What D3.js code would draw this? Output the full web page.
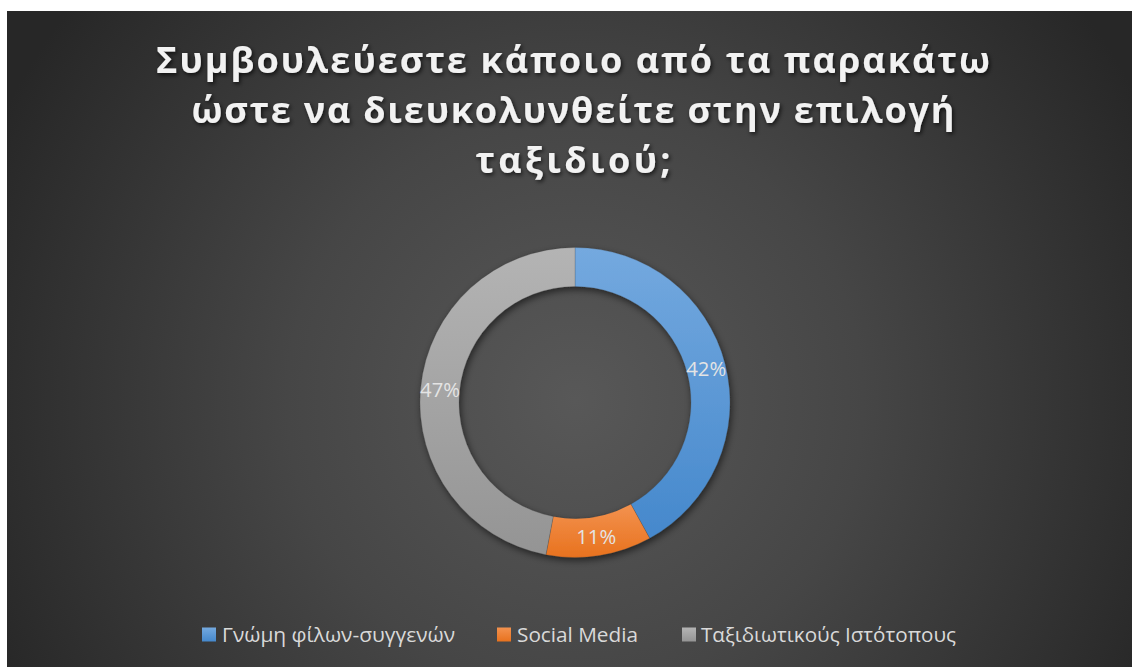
<!DOCTYPE html>
<html>
<head>
<meta charset="utf-8">
<script src="https://cdn.jsdelivr.net/npm/d3@7"></script>
<style>
  html, body { margin: 0; padding: 0; background: #ffffff; }
  svg { display: block; }
</style>
</head>
<body>
<svg id="chart" width="1134" height="667"></svg>
<script>
// Survey answers: share of respondents per source of travel advice
const titleLines = [
  "Συμβουλεύεστε κάποιο από τα παρακάτω",
  "ώστε να διευκολυνθείτε στην επιλογή",
  "ταξιδιού;"
];
const categories = ["Γνώμη φίλων-συγγενών", "Social Media", "Ταξιδιωτικούς Ιστότοπους"];
const values = [42, 11, 47];
const colorsTop = ["#74a9df", "#f3924f", "#b4b4b4"];
const colorsBottom = ["#4588cc", "#e8721e", "#949494"];

const svg = d3.select("#chart");
const frame = { x: 7, y: 11, w: 1125, h: 656 };

const defs = svg.append("defs");

// Background: dark radial gradient, lighter in the middle
const bg = defs.append("radialGradient")
  .attr("id", "bgGrad")
  .attr("gradientUnits", "userSpaceOnUse")
  .attr("cx", 575).attr("cy", 400).attr("r", 640);
bg.append("stop").attr("offset", 0).attr("stop-color", "#585858");
bg.append("stop").attr("offset", 0.45).attr("stop-color", "#464646");
bg.append("stop").attr("offset", 1).attr("stop-color", "#272727");

svg.append("rect")
  .attr("x", frame.x).attr("y", frame.y)
  .attr("width", frame.w).attr("height", frame.h)
  .attr("fill", "url(#bgGrad)");

// Shadows
const ringShadow = defs.append("filter").attr("id", "ringShadow")
  .attr("x", "-20%").attr("y", "-20%").attr("width", "140%").attr("height", "140%");
ringShadow.append("feDropShadow")
  .attr("dx", 1.5).attr("dy", 3).attr("stdDeviation", 3.5)
  .attr("flood-color", "#000").attr("flood-opacity", 0.55);

const textShadow = defs.append("filter").attr("id", "textShadow")
  .attr("x", "-10%").attr("y", "-30%").attr("width", "120%").attr("height", "160%");
textShadow.append("feDropShadow")
  .attr("dx", 1.5).attr("dy", 2).attr("stdDeviation", 2)
  .attr("flood-color", "#000").attr("flood-opacity", 0.7);

// Title
const titleWidths = [834, 763, 195];
const title = svg.append("g").attr("filter", "url(#textShadow)");
titleLines.forEach((line, i) => {
  title.append("text")
    .attr("x", 573)
    .attr("y", 73 + i * 50)
    .attr("text-anchor", "middle")
    .attr("font-family", "'Open Sans', 'Noto Sans', sans-serif")
    .attr("font-weight", 700)
    .attr("font-size", 36)
    .attr("fill", "#f2f2f2")
    .attr("textLength", titleWidths[i])
    .attr("lengthAdjust", "spacing")
    .text(line);
});

// Donut
const cx = 575, cy = 402.5;
const outerR = 155, innerR = 116;

const pie = d3.pie().sort(null).value(d => d)
  .startAngle(0).endAngle(2 * Math.PI);
const arcs = pie(values);
const arc = d3.arc().innerRadius(innerR).outerRadius(outerR);
const labelArc = d3.arc().innerRadius((innerR + outerR) / 2).outerRadius((innerR + outerR) / 2);

// Per-slice vertical gradients spanning each slice's own bounds
arcs.forEach((a, i) => {
  const tmp = svg.append("path").attr("d", arc(a)).attr("transform", `translate(${cx},${cy})`);
  const bb = tmp.node().getBBox();
  tmp.remove();
  const g = defs.append("linearGradient")
    .attr("id", "slice" + i)
    .attr("gradientUnits", "userSpaceOnUse")
    .attr("x1", 0).attr("x2", 0)
    .attr("y1", bb.y).attr("y2", bb.y + bb.height);
  g.append("stop").attr("offset", 0).attr("stop-color", colorsTop[i]);
  g.append("stop").attr("offset", 1).attr("stop-color", colorsBottom[i]);
});

const ring = svg.append("g")
  .attr("transform", `translate(${cx},${cy})`)
  .attr("filter", "url(#ringShadow)");
ring.selectAll("path")
  .data(arcs)
  .join("path")
  .attr("d", arc)
  .attr("fill", (d, i) => `url(#slice${i})`)
  .attr("stroke", "rgba(60,60,60,0.35)")
  .attr("stroke-width", 0.6);

// Value labels at the middle of each slice
svg.append("g")
  .attr("transform", `translate(${cx},${cy})`)
  .selectAll("text")
  .data(arcs)
  .join("text")
  .attr("transform", d => `translate(${labelArc.centroid(d)})`)
  .attr("text-anchor", "middle")
  .attr("dy", "0.36em")
  .attr("font-family", "'Open Sans', 'Noto Sans', sans-serif")
  .attr("font-size", 20)
  .attr("fill", "#e4e4e4")
  .attr("textLength", 40)
  .attr("lengthAdjust", "spacingAndGlyphs")
  .text(d => d.data + "%");

// Legend
const legendItems = [
  { sq: 202, tx: 222 },
  { sq: 497, tx: 517 },
  { sq: 682, tx: 701 }
];
const legendWidths = [233, 121, 255];
const legend = svg.append("g");
categories.forEach((c, i) => {
  const lg = defs.append("linearGradient").attr("id", "legend" + i)
    .attr("x1", 0).attr("x2", 0).attr("y1", 0).attr("y2", 1);
  lg.append("stop").attr("offset", 0).attr("stop-color", colorsTop[i]);
  lg.append("stop").attr("offset", 1).attr("stop-color", colorsBottom[i]);
  legend.append("rect")
    .attr("x", legendItems[i].sq).attr("y", 627.5)
    .attr("width", 14).attr("height", 14)
    .attr("fill", `url(#legend${i})`);
  legend.append("text")
    .attr("x", legendItems[i].tx).attr("y", 641.5)
    .attr("font-family", "'Open Sans', 'Noto Sans', sans-serif")
    .attr("font-size", 20)
    .attr("fill", "#d9d9d9")
    .attr("textLength", legendWidths[i])
    .attr("lengthAdjust", "spacingAndGlyphs")
    .text(c);
});
</script>
</body>
</html>
